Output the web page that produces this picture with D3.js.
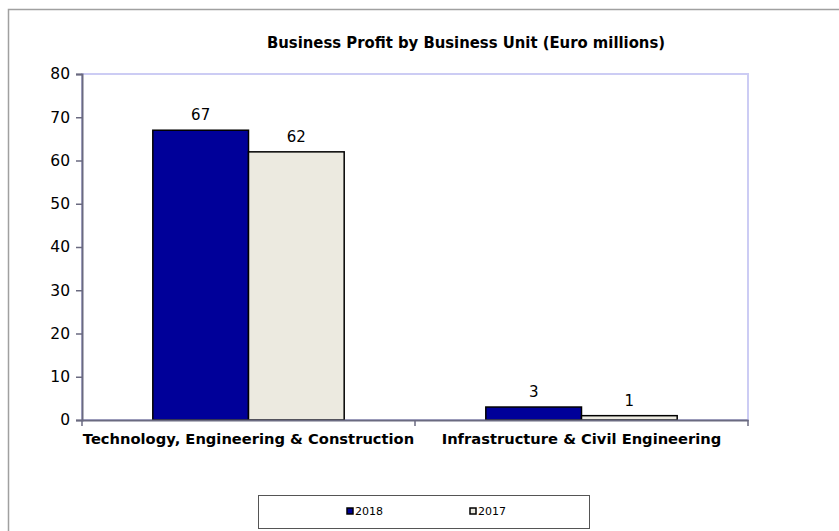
<!DOCTYPE html>
<html>
<head>
<meta charset="utf-8">
<script src="https://cdn.jsdelivr.net/npm/d3@7"></script>
<style>
  html, body { margin: 0; padding: 0; background: #fff; }
  svg { display: block; }
</style>
</head>
<body>
<svg id="chart" width="839" height="531"></svg>
<script>
// Business profit per unit, euro millions
const categories = ["Technology, Engineering & Construction", "Infrastructure & Civil Engineering"];
const seriesNames = ["2018", "2017"];
const values2018 = [67, 3];
const values2017 = [62, 1];
const yTicks = [0, 10, 20, 30, 40, 50, 60, 70, 80];
const seriesColors = ["#000099", "#ECEAE0"];

const svg = d3.select("#chart");
const W = 839, H = 531;

// outer frame
svg.append("rect")
  .attr("x", 8.5).attr("y", 9.5)
  .attr("width", W + 10).attr("height", H + 10)
  .attr("fill", "none").attr("stroke", "#a0a0a0").attr("stroke-width", 1.5);

const plot = { left: 82, top: 74, right: 748, bottom: 420 };

const x0 = d3.scaleBand().domain(categories)
  .range([plot.left, plot.right]).paddingInner(0).paddingOuter(0);
const x1 = d3.scaleBand().domain(seriesNames)
  .range([0, x0.bandwidth()]).paddingInner(0).paddingOuter(0.74);
const y = d3.scaleLinear().domain([0, 80]).range([plot.bottom, plot.top]);

// plot area border
svg.append("rect")
  .attr("x", plot.left).attr("y", plot.top)
  .attr("width", plot.right - plot.left).attr("height", plot.bottom - plot.top)
  .attr("fill", "#fff").attr("stroke", "#ccccf4").attr("stroke-width", 2);

// title
svg.append("text")
  .attr("x", 466).attr("y", 48)
  .attr("text-anchor", "middle")
  .attr("font-family", "DejaVu Sans Condensed, DejaVu Sans")
  .attr("font-weight", "bold").attr("font-stretch", "condensed")
  .attr("font-size", 16.5).attr("fill", "#000")
  .text("Business Profit by Business Unit (Euro millions)");

const rows = categories.map((c, i) => ({ cat: c, vals: [values2018[i], values2017[i]] }));

// bars
const groups = svg.append("g").selectAll("g").data(rows).join("g")
  .attr("transform", d => `translate(${x0(d.cat)},0)`);

groups.selectAll("rect")
  .data(d => d.vals.map((v, j) => ({ key: seriesNames[j], v, j })))
  .join("rect")
  .attr("x", d => x1(d.key))
  .attr("y", d => y(d.v))
  .attr("width", x1.bandwidth())
  .attr("height", d => y(0) - y(d.v))
  .attr("fill", d => seriesColors[d.j])
  .attr("stroke", "#000").attr("stroke-width", 1.5);

groups.selectAll("text.val")
  .data(d => d.vals.map((v, j) => ({ key: seriesNames[j], v, j })))
  .join("text").attr("class", "val")
  .attr("x", d => x1(d.key) + x1.bandwidth() / 2)
  .attr("y", d => y(d.v) - 10)
  .attr("text-anchor", "middle")
  .attr("font-family", "DejaVu Sans").attr("font-size", 15).attr("fill", "#000")
  .text(d => d.v);

// y axis
const yAxis = svg.append("g").attr("transform", `translate(${plot.left},0)`)
  .call(d3.axisLeft(y).tickValues(yTicks).tickSize(6).tickPadding(6));
yAxis.select(".domain").attr("stroke", "#6a6a80").attr("stroke-width", 2);
yAxis.selectAll(".tick line").attr("stroke", "#6a6a80").attr("stroke-width", 1.5);
yAxis.selectAll(".tick text")
  .attr("font-family", "DejaVu Sans").attr("font-size", 15.5).attr("fill", "#000");

// x axis
const xAxis = svg.append("g").attr("transform", `translate(0,${plot.bottom})`)
  .call(d3.axisBottom(x0).tickSize(0).tickPadding(14));
xAxis.select(".domain").attr("stroke", "#6a6a80").attr("stroke-width", 2);
xAxis.selectAll(".tick text")
  .attr("font-family", "DejaVu Sans").attr("font-weight", "bold")
  .attr("font-size", 14.7).attr("fill", "#000").attr("dy", "0.71em");
// category boundary ticks
xAxis.selectAll("line.sep")
  .data([plot.left, x0(categories[1]), plot.right])
  .join("line").attr("class", "sep")
  .attr("x1", d => d).attr("x2", d => d)
  .attr("y1", 0).attr("y2", 6)
  .attr("stroke", "#6a6a80").attr("stroke-width", 1.5);

// legend
const legend = svg.append("g");
legend.append("rect")
  .attr("x", 258.5).attr("y", 495.5).attr("width", 331).attr("height", 33)
  .attr("fill", "#fff").attr("stroke", "#555").attr("stroke-width", 1);
const legX = [347, 470];
seriesNames.forEach((s, i) => {
  legend.append("rect")
    .attr("x", legX[i]).attr("y", 508).attr("width", 6).attr("height", 6)
    .attr("fill", seriesColors[i]).attr("stroke", "#000").attr("stroke-width", 1.5);
  legend.append("text")
    .attr("x", legX[i] + 8).attr("y", 515)
    .attr("font-family", "DejaVu Sans").attr("font-size", 11).attr("fill", "#000")
    .text(s);
});
</script>
</body>
</html>
